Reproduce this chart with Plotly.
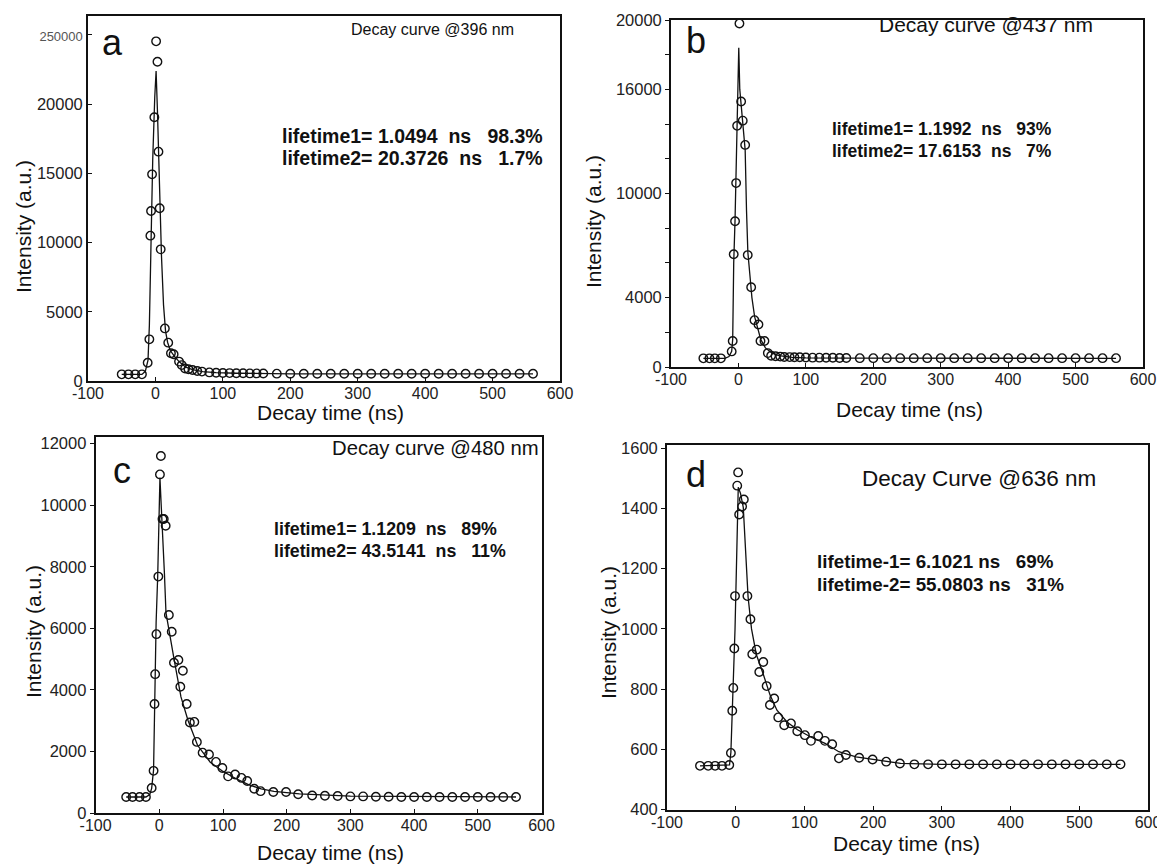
import plotly.graph_objects as go

# page body has an 8px margin: the figure is sized so that it ends at the window edge
OFF = 8
W, H = 1165 - OFF, 864 - OFF

# ---------------- data ----------------
# panel a : 396 nm
a_t = [-50, -40, -30, -20, -11.5, -9, -7.5, -6.5, -5, -1.6, 1, 3, 4.5, 6.3, 7.8, 14, 19, 23, 27, 35, 39, 44, 49, 55,
       62, 69, 80, 90, 100, 110, 120, 130, 140, 150, 160, 180, 200, 220, 240, 260, 280, 300, 320, 340, 360, 380,
       400, 420, 440, 460, 480, 500, 520, 540, 560]
a_v = [480, 480, 480, 480, 1320, 3010, 10500, 12280, 14930, 19050, 24540, 23070, 16570, 12480, 9510, 3800, 2770,
       2000, 1930, 1400, 1150, 900, 850, 800, 720, 680, 620, 600, 580, 570, 560, 560, 550, 550, 540, 530, 520, 520,
       520, 520, 520, 520, 520, 520, 520, 520, 520, 520, 520, 520, 520, 520, 520, 520, 520]
a_fit_t = [-50, -20, -15, -11, -9, -7, -4, -1, 1, 3, 5, 7, 9, 12, 15, 18, 22, 28, 35, 45, 55, 70, 90, 120, 160, 200, 560]
a_fit_v = [480, 480, 700, 1500, 4000, 10000, 16000, 20500, 22400, 19500, 15500, 12000, 9000, 5500, 3600, 2800, 2200,
           1800, 1400, 1000, 820, 680, 600, 560, 540, 520, 520]

# panel b : 437 nm
b_t = [-52, -43, -35, -26, -10, -8.5, -7, -5, -3.4, -1.9, 1.5, 4, 6.4, 10, 13.8, 18.9, 23.8, 29.7, 32.7, 38.6, 43.6,
       48.5, 55, 62, 68, 76, 83, 91, 100, 110, 120, 130, 140, 150, 160, 180, 200, 220, 240, 260, 280, 300, 320, 340,
       360, 380, 400, 420, 440, 460, 480, 500, 520, 540, 560]
b_v = [500, 500, 500, 500, 900, 1500, 6500, 8400, 10600, 13900, 19800, 15300, 14200, 12800, 6450, 4600, 2700, 2450,
       1500, 1500, 800, 650, 620, 600, 580, 570, 560, 560, 550, 540, 540, 530, 530, 520, 520, 510, 510, 510, 510,
       510, 510, 510, 510, 510, 510, 510, 510, 510, 510, 510, 510, 510, 510, 510, 510]
b_fit_t = [-52, -20, -14, -10, -8.5, -7, -5, -3, -1, 0.5, 2, 4, 6, 8, 10, 12, 14, 17, 20, 24, 28, 33, 40, 50, 60, 80,
           100, 160, 560]
b_fit_v = [500, 500, 600, 900, 1600, 6000, 8500, 11500, 15000, 18400, 16000, 15000, 14000, 13300, 12500, 9000, 6600,
           5300, 4000, 2900, 2300, 1600, 1100, 800, 650, 560, 530, 510, 500]

# panel c : 480 nm
c_t = [-52, -42, -31, -21, -12, -9, -7.5, -6.5, -4.5, -1.5, 1, 2.5, 5, 7, 10, 15, 19.5, 23, 30, 33, 37, 43, 48, 55,
       59, 68, 78, 89, 99, 108, 119, 129, 138, 149, 159, 179, 199, 218, 240, 260, 280, 300, 320, 340, 360, 380, 400,
       420, 440, 460, 480, 500, 520, 540, 560]
c_v = [520, 520, 520, 520, 810, 1370, 3540, 4510, 5810, 7680, 11000, 11600, 9550, 9550, 9330, 6430, 5890, 4880, 4970,
       4100, 4620, 3540, 2940, 2960, 2310, 1960, 1900, 1660, 1460, 1190, 1250, 1140, 1040, 790, 710, 680, 680, 610,
       570, 560, 550, 540, 540, 530, 530, 520, 520, 520, 520, 520, 520, 520, 520, 520, 520]
c_fit_t = [-52, -21, -15, -12, -9, -7, -5, -2.5, -0.5, 1, 3, 5, 8, 10.5, 15.7, 23.5, 34, 45, 60, 80, 100, 120, 140,
           160, 180, 220, 300, 560]
c_fit_v = [520, 520, 600, 800, 1400, 4500, 6200, 7700, 9600, 10900, 10000, 9200, 7800, 6500, 5850, 4960, 3770, 3015,
           2200, 1650, 1350, 1120, 920, 780, 700, 620, 550, 520]

# panel d : 636 nm
d_t = [-52, -40, -30, -20, -9.4, -7, -5, -3.5, -2, -1, 2.2, 3.5, 5, 9.3, 11.8, 17, 21.4, 24.1, 30.5, 34.3, 40.1, 45,
       49.8, 56, 61.9, 70.6, 80.4, 89.6, 100.7, 109.5, 120.1, 129.8, 140.4, 150.2, 160.4, 179.7, 199.2, 219, 239,
       260, 280, 300, 320, 340, 360, 380, 400, 420, 440, 460, 480, 500, 520, 540, 560]
d_v = [545, 545, 545, 545, 548, 588, 728, 804, 935, 1109, 1476, 1520, 1380, 1407, 1430, 1109, 1032, 916, 931, 857, 890,
       810, 747, 769, 706, 680, 686, 660, 647, 628, 644, 628, 617, 570, 581, 572, 566, 559, 553, 550, 550, 550, 550,
       550, 550, 550, 550, 550, 550, 550, 550, 550, 550, 550, 550]
d_fit_t = [-52, -9, -7, -5, -3, -1, 3.7, 7, 11, 15, 18, 23, 30, 40, 50, 60, 75, 90, 110, 130, 150, 175, 200, 240,
           300, 560]
d_fit_v = [545, 548, 590, 728, 830, 1000, 1471, 1450, 1404, 1250, 1106, 1000, 915, 850, 780, 730, 690, 665, 640, 620,
           592, 575, 566, 553, 550, 550]

x_ticks = [-100, 0, 100, 200, 300, 400, 500, 600]
x_ticktext = ["-100", "0", "100", "200", "300", "400", "500", "600"]

a_yticks = [0, 5000, 10000, 15000, 20000, 25000]
a_ytext = ["0", "5000", "10000", "15000", "20000", "<span style='font-size:13px;color:#555'>250000</span>"]
b_yticks = [0, 2000, 4000, 6000, 8000, 10000, 12000, 14000, 16000, 18000, 20000]
b_ytext = ["0", "", "4000", "", "", "10000", "", "", "16000", "", "20000"]
c_yticks = [0, 2000, 4000, 6000, 8000, 10000, 12000]
c_ytext = ["0", "2000", "4000", "6000", "8000", "10000", "12000"]
d_yticks = [400, 600, 800, 1000, 1200, 1400, 1600]
d_ytext = ["400", "600", "800", "1000", "1200", "1400", "1600"]

letters = ["a", "b", "c", "d"]
curve_titles = ["Decay curve @396 nm", "Decay curve @437 nm", "Decay curve @480 nm", "Decay Curve @636 nm"]
life1 = ["lifetime1= 1.0494\u00a0\u00a0ns\u00a0\u00a0 98.3%", "lifetime1= 1.1992\u00a0\u00a0ns\u00a0\u00a0 93%",
         "lifetime1= 1.1209\u00a0\u00a0ns\u00a0\u00a0 89%", "lifetime-1= 6.1021\u00a0ns\u00a0\u00a0 69%"]
life2 = ["lifetime2= 20.3726\u00a0\u00a0ns\u00a0\u00a0 1.7%", "lifetime2= 17.6153\u00a0\u00a0ns\u00a0\u00a0 7%",
         "lifetime2= 43.5141\u00a0\u00a0ns\u00a0\u00a0 11%", "lifetime-2= 55.0803\u00a0ns\u00a0\u00a0 31%"]

# ---------------- layout geometry (window pixels) ----------------
FONT = "Arial, Liberation Sans, sans-serif"
panels = [
    dict(t=a_t, v=a_v, ft=a_fit_t, fv=a_fit_v, box=(88, 560, 16, 381), yr=[0, 26370], yt=a_yticks, ytt=a_ytext,
         yticks="inside", letter=(112, 42), title=(349, 30, 16), life=(280, 136, 158, 19.5),
         ytitle=(23, 227), xtitle=(330, 412)),
    dict(t=b_t, v=b_v, ft=b_fit_t, fv=b_fit_v, box=(671, 1143, 20, 367), yr=[0, 20000], yt=b_yticks, ytt=b_ytext,
         yticks="outside", letter=(696, 40), title=(877, 24, 21), life=(830, 129, 151, 17.5),
         ytitle=(593, 222), xtitle=(910, 409)),
    dict(t=c_t, v=c_v, ft=c_fit_t, fv=c_fit_v, box=(95.6, 541.5, 437, 813), yr=[0, 12215], yt=c_yticks, ytt=c_ytext,
         yticks="outside", letter=(122, 470), title=(330, 448, 20.3), life=(272, 529, 551, 17.8),
         ytitle=(33, 632), xtitle=(330, 852)),
    dict(t=d_t, v=d_v, ft=d_fit_t, fv=d_fit_v, box=(667, 1148, 445, 809.5), yr=[400, 1611], yt=d_yticks, ytt=d_ytext,
         yticks="outside", letter=(696, 474), title=(860, 478, 22.5), life=(815, 561, 584, 18.8),
         ytitle=(608, 633), xtitle=(906, 843)),
]


def fx(p):
    return (p - OFF) / W


def fy(p):
    return 1 - (p - OFF) / H


fig = go.Figure()
annotations = []
for i, p in enumerate(panels):
    n = "" if i == 0 else str(i + 1)
    xa, ya = "x" + n, "y" + n
    fig.add_trace(go.Scatter(x=p["ft"], y=p["fv"], mode="lines", line=dict(color="#111", width=1.3),
                             xaxis=xa, yaxis=ya, hoverinfo="skip"))
    fig.add_trace(go.Scatter(x=p["t"], y=p["v"], mode="markers",
                             marker=dict(symbol="circle-open", size=8.5, color="#111", line=dict(width=1.4)),
                             xaxis=xa, yaxis=ya, hoverinfo="skip"))
    x0, x1, y0, y1 = p["box"]
    fig.layout["xaxis" + n] = dict(domain=[fx(x0), fx(x1)], range=[-100, 600], anchor=ya, automargin=False,
                                   tickvals=x_ticks, ticktext=x_ticktext, ticks="inside", ticklen=4,
                                   ticklabelstandoff=-3,
                                   tickcolor="#111", showline=True, linecolor="#111", linewidth=1.8,
                                   mirror=True, showgrid=False, zeroline=False,
                                   tickfont=dict(family=FONT, size=16, color="#222"))
    fig.layout["yaxis" + n] = dict(domain=[fy(y1), fy(y0)], range=p["yr"], anchor=xa, automargin=False,
                                   tickvals=p["yt"], ticktext=p["ytt"], ticks=p["yticks"], ticklen=4,
                                   tickcolor="#111", showline=True, linecolor="#111", linewidth=1.8,
                                   mirror=True, showgrid=False, zeroline=False,
                                   tickfont=dict(family=FONT, size=16.5, color="#222"))
    lx, ly = p["letter"]
    annotations.append(dict(text=letters[i], x=fx(lx), y=fy(ly), xanchor="center", yanchor="middle",
                            font=dict(family=FONT, size=36, color="#111")))
    tx, ty, ts = p["title"]
    annotations.append(dict(text=curve_titles[i], x=fx(tx), y=fy(ty), xanchor="left", yanchor="middle",
                            font=dict(family=FONT, size=ts, color="#111")))
    lx0, l1y, l2y, ls = p["life"]
    annotations.append(dict(text="<b>" + life1[i] + "</b>", x=fx(lx0), y=fy(l1y), xanchor="left",
                            yanchor="middle", font=dict(family=FONT, size=ls, color="#111")))
    annotations.append(dict(text="<b>" + life2[i] + "</b>", x=fx(lx0), y=fy(l2y), xanchor="left",
                            yanchor="middle", font=dict(family=FONT, size=ls, color="#111")))
    yx, yy = p["ytitle"]
    annotations.append(dict(text="Intensity (a.u.)", x=fx(yx), y=fy(yy), xanchor="center", yanchor="middle",
                            textangle=-90, font=dict(family=FONT, size=21, color="#111")))
    xx, xy = p["xtitle"]
    annotations.append(dict(text="Decay time (ns)", x=fx(xx), y=fy(xy), xanchor="center", yanchor="middle",
                            font=dict(family=FONT, size=21, color="#111")))

for a in annotations:
    a.update(xref="paper", yref="paper", showarrow=False)

fig.update_layout(template="none", width=W, height=H, margin=dict(l=0, r=0, t=0, b=0, pad=0), showlegend=False,
                  plot_bgcolor="white", paper_bgcolor="white", annotations=annotations, hovermode=False)

fig.write_html("out.html")
